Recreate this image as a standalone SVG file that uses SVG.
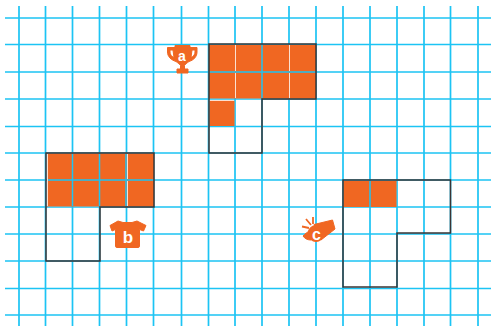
<svg xmlns="http://www.w3.org/2000/svg" width="491" height="326" viewBox="0 0 491 326">
<style>
.g{stroke:#1cc4f4;stroke-width:1.7;fill:none}
.n{stroke:#1cc4f4;stroke-width:1.5;fill:none}
.f{fill:#f06722;stroke:none}
.s{fill:none;stroke:#3a3535;stroke-width:1.5}
.w{stroke:#fbe0d0;stroke-width:1;fill:none}
.i{fill:#f06722;stroke:#f06722;stroke-width:1;stroke-linejoin:round}
.t{font-family:"Liberation Sans",Arial,sans-serif;font-weight:700;fill:#fff;text-anchor:middle}
</style>
<rect width="491" height="326" fill="#fff"/>
<g id="connectors">
<path class="g" d="M19 6V326M45.500 6V326M72.500 6V326M99.500 6V326M126.500 6V326M153.500 6V326M181.500 6V326M208.500 6V326M235 6V326M262 6V326M289 6V326M316 6V326M343 6V326M370 6V326M397 6V326M424 6V326M450.500 6V326M478 6V326"/>
<path class="g" d="M5 18H491M5 44.500H491M5 72H491M5 99H491M5 126.500H491M5 153H491M5 180H491M5 207H491M5 234H491M5 261H491M5 288.500H491M5 315H491"/>
</g>
<g id="fills">
<path class="f" d="M209 45H316V98.500H209Z"/>
<rect class="f" x="209.500" y="101" width="25" height="25"/>
<rect class="f" x="47" y="153.500" width="107" height="53"/>
<rect class="f" x="343.500" y="181" width="53" height="26"/>
<path class="n" d="M209 72H316M262 45V98M47 180H154M72.500 154V206M99.500 154V206M126 154V206M370 181V207"/>
<path class="w" d="M235.500 45V71M235.500 73V98M289.500 45V71M289.500 73V98M210 100.500H234M127.500 154V179M127.500 181V206M47.500 154V206"/>
</g>
<g id="shape-a"><path class="s" d="M209 44H316V99H262V153H209Z"/></g>
<g id="shape-b"><path class="s" d="M46 153H154V207H100V261H46Z"/></g>
<g id="shape-c"><path class="s" d="M343 180H450.500V233H397V287H343Z"/></g>
<g id="icon-a">
<path class="i" d="M175 45.500H190V47.500H197V52C197 56.500 194 60 189 61.500C187 63 185 64.500 184.500 65.500V69H188V73H177V69H180.500V65.500C180 64.500 178 63 176 61.500C171 60 167.500 56.500 167.500 52V47.500H175ZM170 50V52C170 54.500 171.500 56.500 174 57.500L173 50ZM192 50L191 57.500C193.500 56.500 195 54.500 195 52V50Z"/>
<text class="t" x="182" y="61" font-size="14">a</text>
</g>
<g id="icon-b">
<path class="i" d="M118 221L123 222.500H132L137 221L146 225.500L143.500 231L139.500 229.500V246C139.500 247 139 247.500 138 247.500H117C116 247.500 115.500 247 115.500 246V229.500L112 231L110 225.500Z"/>
<text class="t" x="128" y="243" font-size="17">b</text>
</g>
<g id="icon-c">
<circle class="i" cx="316" cy="233.500" r="8"/>
<path class="i" d="M314 224.500L332.500 220L335 229L321 240Z"/>
<path class="i" d="M303 236C305 234 307 232 310 231L311 240C308 240 305 239 303 236Z"/>
<path d="M309 228L302 226.500M311 225L306 219M313 224L313 217" stroke="#f06722" stroke-width="1.800" fill="none"/>
<text class="t" x="316.500" y="239.500" font-size="16">c</text>
</g>
</svg>
